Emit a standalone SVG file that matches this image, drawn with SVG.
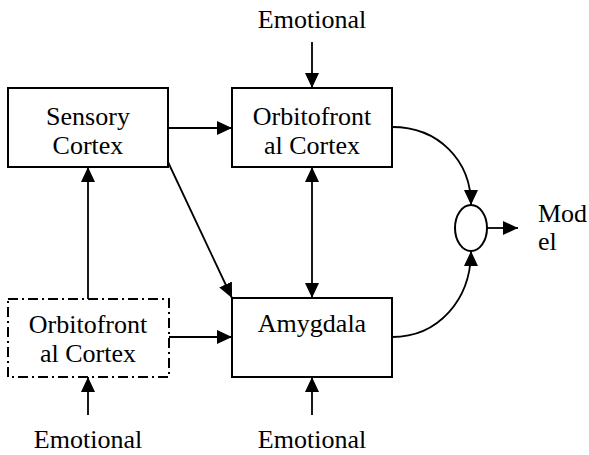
<svg xmlns="http://www.w3.org/2000/svg" width="589" height="455" viewBox="0 0 589 455">
<style>
.box{fill:#fff;stroke:#000;stroke-width:2}
.dash{fill:#fff;stroke:#000;stroke-width:2;stroke-dasharray:10,4,2,4}
.c{fill:none;stroke:#000;stroke-width:1.8}
</style>
<defs>
<marker id="ah" markerUnits="userSpaceOnUse" markerWidth="15" markerHeight="14" viewBox="0 0 15 14" refX="15" refY="7" orient="auto-start-reverse">
<path d="M0,0 L15,7 L0,14 z" fill="#000"/>
</marker>
</defs>
<g id="connectors">
<line class="c" x1="312" y1="42" x2="312" y2="88" marker-end="url(#ah)"/>
<line class="c" x1="168" y1="128" x2="232" y2="128" marker-end="url(#ah)"/>
<line class="c" x1="168" y1="162" x2="232" y2="298" marker-end="url(#ah)"/>
<line class="c" x1="312" y1="167" x2="312" y2="298" marker-start="url(#ah)" marker-end="url(#ah)"/>
<line class="c" x1="88" y1="299" x2="88" y2="167" marker-end="url(#ah)"/>
<line class="c" x1="169" y1="337" x2="232" y2="337" marker-end="url(#ah)"/>
<line class="c" x1="88" y1="415" x2="88" y2="377" marker-end="url(#ah)"/>
<line class="c" x1="312" y1="415" x2="312" y2="377" marker-end="url(#ah)"/>
<path class="c" d="M392,127 C438,127 471,160 471,205" marker-end="url(#ah)"/>
<path class="c" d="M392,337 C438,337 471,300 471,251" marker-end="url(#ah)"/>
<line class="c" x1="487" y1="228" x2="518" y2="228" marker-end="url(#ah)"/>
</g>
<g font-family="Liberation Serif, DejaVu Serif, serif" font-size="26" fill="#000" text-anchor="middle">
<g id="sensory">
<rect class="box" x="8" y="88" width="160" height="79"/>
<text x="88" y="125">Sensory</text>
<text x="88" y="154">Cortex</text>
</g>
<g id="ofc-top">
<rect class="box" x="232" y="88" width="160" height="79"/>
<text x="312" y="125">Orbitofront</text>
<text x="312" y="154">al Cortex</text>
</g>
<g id="amygdala">
<rect class="box" x="232" y="298" width="160" height="79"/>
<text x="312" y="332">Amygdala</text>
</g>
<g id="ofc-dashed">
<rect class="dash" x="8" y="299" width="161" height="78"/>
<text x="88" y="333">Orbitofront</text>
<text x="88" y="362">al Cortex</text>
</g>
<g id="sum">
<ellipse cx="471" cy="228" rx="16" ry="23" fill="#fff" stroke="#000" stroke-width="2"/>
</g>
<g id="labels">
<text x="312" y="28">Emotional</text>
<text x="88" y="448">Emotional</text>
<text x="312" y="448">Emotional</text>
<text x="538" y="222" text-anchor="start">Mod</text>
<text x="538" y="250" text-anchor="start">el</text>
</g>
</g>
</svg>
